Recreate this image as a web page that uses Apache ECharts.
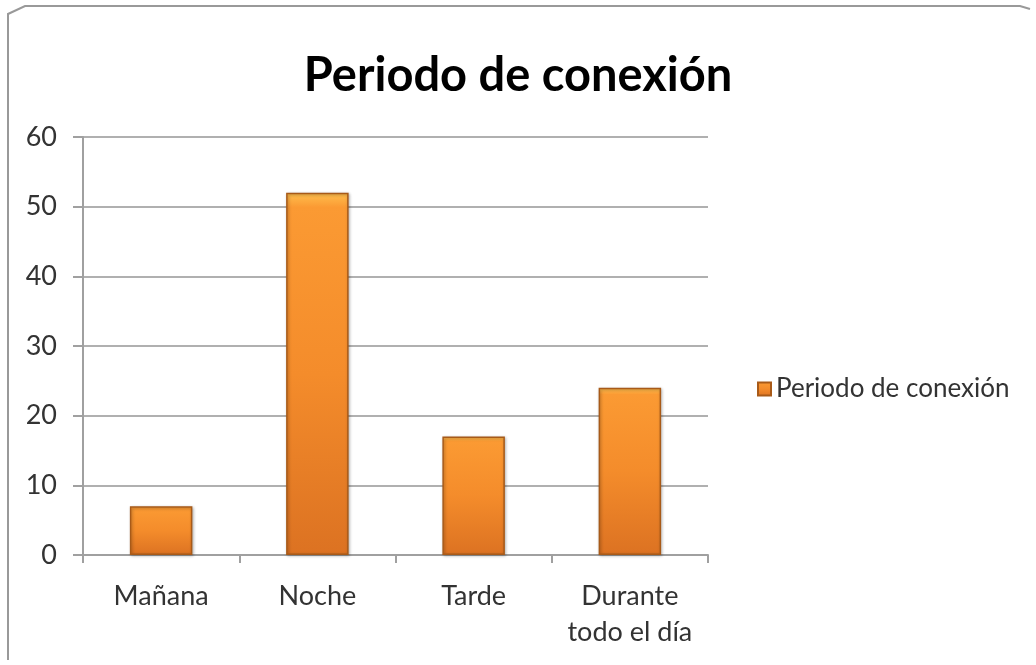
<!DOCTYPE html>
<html>
<head>
<meta charset="utf-8">
<script src="https://cdn.jsdelivr.net/npm/echarts@6/dist/echarts.min.js"></script>
<style>
  html, body { margin: 0; padding: 0; background: #fff; }
  #root { width: 1036px; height: 665px; }
</style>
</head>
<body>
<div id="root"></div>
<script>
var categories = ['Mañana', 'Noche', 'Tarde', 'Durante\ntodo el día'];
var values = [7, 52, 17, 24];
var seriesName = 'Periodo de conexión';
var yTicks = { min: 0, max: 60, interval: 10 };

var chart = echarts.init(document.getElementById('root'));

var barColor = new echarts.graphic.LinearGradient(0, 0, 0, 1, [
  { offset: 0, color: '#ffc04f' },
  { offset: 0.04, color: '#fb9a33' },
  { offset: 0.5, color: '#f48c2b' },
  { offset: 1, color: '#dc7222' }
]);

var option = {
  animation: false,
  backgroundColor: '#fff',
  textStyle: { fontFamily: 'Lato' },
  title: {
    text: seriesName,
    left: 'center',
    top: 47,
    textStyle: { fontFamily: 'Lato', fontSize: 47, fontWeight: 'bold', color: '#000' }
  },
  legend: {
    data: [seriesName],
    left: 752,
    top: 371,
    itemWidth: 13,
    itemHeight: 13,
    itemGap: 13,
    icon: 'rect',
    textStyle: { fontFamily: 'Lato', fontSize: 26, color: '#333' }
  },
  grid: { left: 83, right: 328, top: 137, bottom: 110, containLabel: false },
  xAxis: {
    type: 'category',
    data: categories,
    axisLine: { lineStyle: { color: '#a0a0a0', width: 2 } },
    axisTick: { show: true, length: 8, lineStyle: { color: '#a0a0a0', width: 2 } },
    axisLabel: { interval: 0, fontFamily: 'Lato', fontSize: 27, color: '#333', margin: 23, lineHeight: 36 }
  },
  yAxis: {
    type: 'value',
    min: yTicks.min,
    max: yTicks.max,
    interval: yTicks.interval,
    axisLine: { show: true, lineStyle: { color: '#a0a0a0', width: 2 } },
    axisTick: { show: true, length: 10, lineStyle: { color: '#a0a0a0', width: 2 } },
    axisLabel: { fontFamily: 'Lato', fontSize: 27, color: '#333', margin: 26 },
    splitLine: { lineStyle: { color: '#b0b0b0', width: 2 } }
  },
  series: [{
    name: seriesName,
    type: 'bar',
    data: values,
    barWidth: '40%',
    itemStyle: {
      color: barColor,
      borderColor: '#a85a18',
      borderWidth: 1.5,
      shadowColor: 'rgba(0,0,0,0.3)',
      shadowBlur: 3,
      shadowOffsetX: 1,
      shadowOffsetY: 1
    }
  }],
  graphic: [
    { type: 'polyline', shape: { points: [[8, 660], [8, 14], [25, 6], [1020, 6], [1030, 9]] }, style: { stroke: '#999', lineWidth: 2, fill: null } }
  ]
};

chart.setOption(option);
</script>
</body>
</html>
